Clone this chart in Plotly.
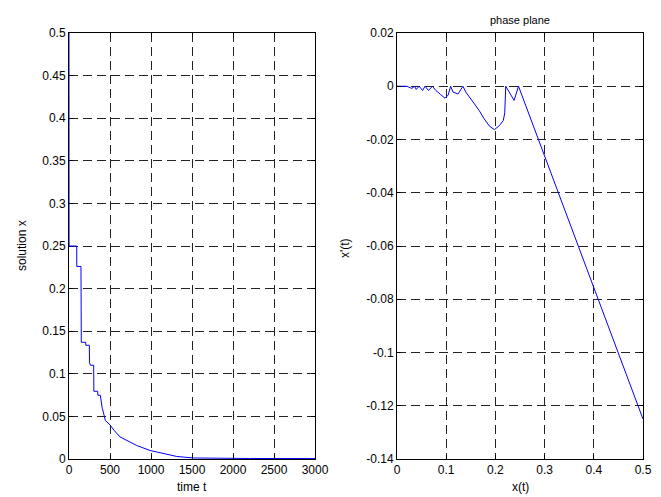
import plotly.graph_objects as go

# Left plot: solution x over time t (staircase decay)
t_vals = [0, 1, 94, 95, 146, 148, 150, 203, 205, 248, 250, 262, 301, 303, 350, 352, 382, 406, 408, 439, 441,
          500, 549, 622, 703, 825, 988, 1150, 1313, 1516, 1800, 2200, 3000]
x_vals = [0.5, 0.25, 0.25, 0.226, 0.226, 0.17, 0.137, 0.137, 0.1335, 0.1335, 0.113, 0.110, 0.110, 0.0795, 0.0795,
          0.0748, 0.0748, 0.059, 0.059, 0.047, 0.0454, 0.040, 0.0337, 0.0259, 0.0218, 0.0159, 0.0100, 0.0061,
          0.0030, 0.0012, 0.0008, 0.0006, 0.0005]

# Right plot: phase plane x(t) vs x'(t)
px_vals = [0.5, 0.287, 0.247, 0.238, 0.221, 0.219, 0.216, 0.208, 0.198, 0.188, 0.177, 0.167, 0.157, 0.147,
           0.140, 0.134, 0.130, 0.124, 0.114, 0.109, 0.104, 0.0976, 0.088, 0.079, 0.072, 0.064, 0.057, 0.052,
           0.045, 0.039, 0.036, 0.030, 0.020, 0.0]
pv_vals = [-0.125, -0.0198, 0.0, -0.0053, 0.0, -0.0100, -0.0129, -0.0148, -0.0163, -0.0150, -0.0122, -0.0091,
           -0.0064, -0.0041, -0.0022, 0.0, -0.0012, -0.0029, -0.0022, 0.0, -0.0033, -0.0045, -0.0030, -0.0016,
           0.0, -0.0016, 0.0, -0.0016, 0.0, -0.0012, 0.0, -0.0008, 0.0, 0.0]

left_xticks = [0, 500, 1000, 1500, 2000, 2500, 3000]
left_yticks = [0, 0.05, 0.1, 0.15, 0.2, 0.25, 0.3, 0.35, 0.4, 0.45, 0.5]
right_xticks = [0, 0.1, 0.2, 0.3, 0.4, 0.5]
right_yticks = [0.02, 0, -0.02, -0.04, -0.06, -0.08, -0.1, -0.12, -0.14]

fig = go.Figure()
fig.add_trace(go.Scatter(x=t_vals, y=x_vals, mode="lines", line=dict(color="#0000ff", width=1),
                         xaxis="x", yaxis="y", showlegend=False, cliponaxis=False))
fig.add_trace(go.Scatter(x=px_vals, y=pv_vals, mode="lines", line=dict(color="#0000ff", width=1),
                         xaxis="x2", yaxis="y2", showlegend=False))

font = dict(family="Liberation Sans, Arial, sans-serif", size=12, color="black")
axis_common = dict(showline=True, linecolor="black", linewidth=1, mirror="ticks", ticks="inside",
                   ticklen=4, tickcolor="black", showgrid=True, gridcolor="#222", gridwidth=1,
                   griddash="9px,5px", zeroline=False, tickfont=font, automargin=False)

ydom = [1 - 459 / 497, 1 - 33 / 497]
fig.update_layout(
    template="none",
    width=661, height=497, margin=dict(l=0, r=0, t=0, b=0, autoexpand=False),
    paper_bgcolor="white", plot_bgcolor="white", font=font, showlegend=False,
    xaxis=dict(domain=[69 / 661, 315 / 661], range=[0, 3000], tickvals=left_xticks,
               ticktext=[str(v) for v in left_xticks], anchor="y", **axis_common),
    yaxis=dict(domain=ydom, range=[0, 0.5], tickvals=left_yticks,
               ticktext=["0", "0.05", "0.1", "0.15", "0.2", "0.25", "0.3", "0.35", "0.4", "0.45", "0.5"],
               anchor="x", layer="below traces", **axis_common),
    xaxis2=dict(domain=[397 / 661, 643 / 661], range=[0, 0.5], tickvals=right_xticks,
                ticktext=["0", "0.1", "0.2", "0.3", "0.4", "0.5"], anchor="y2", **axis_common),
    yaxis2=dict(domain=ydom, range=[-0.14, 0.02], tickvals=right_yticks,
                ticktext=["0.02", "0", "-0.02", "-0.04", "-0.06", "-0.08", "-0.1", "-0.12", "-0.14"],
                anchor="x2", **axis_common),
    annotations=[
        dict(text="time t", x=192 / 661, y=1 - 487 / 497, xref="paper", yref="paper",
             showarrow=False, font=font, xanchor="center", yanchor="middle"),
        dict(text="solution x", x=22 / 661, y=1 - 246 / 497, xref="paper", yref="paper",
             showarrow=False, font=font, textangle=-90, xanchor="center", yanchor="middle"),
        dict(text="x(t)", x=520 / 661, y=1 - 487 / 497, xref="paper", yref="paper",
             showarrow=False, font=font, xanchor="center", yanchor="middle"),
        dict(text="x'(t)", x=345 / 661, y=1 - 248 / 497, xref="paper", yref="paper",
             showarrow=False, font=font, textangle=-90, xanchor="center", yanchor="middle"),
        dict(text="phase plane", x=520 / 661, y=1 - 20 / 497, xref="paper", yref="paper",
             showarrow=False, font=dict(family=font["family"], size=11, color="black"),
             xanchor="center", yanchor="middle"),
    ],
)

fig.write_html("out.html")
